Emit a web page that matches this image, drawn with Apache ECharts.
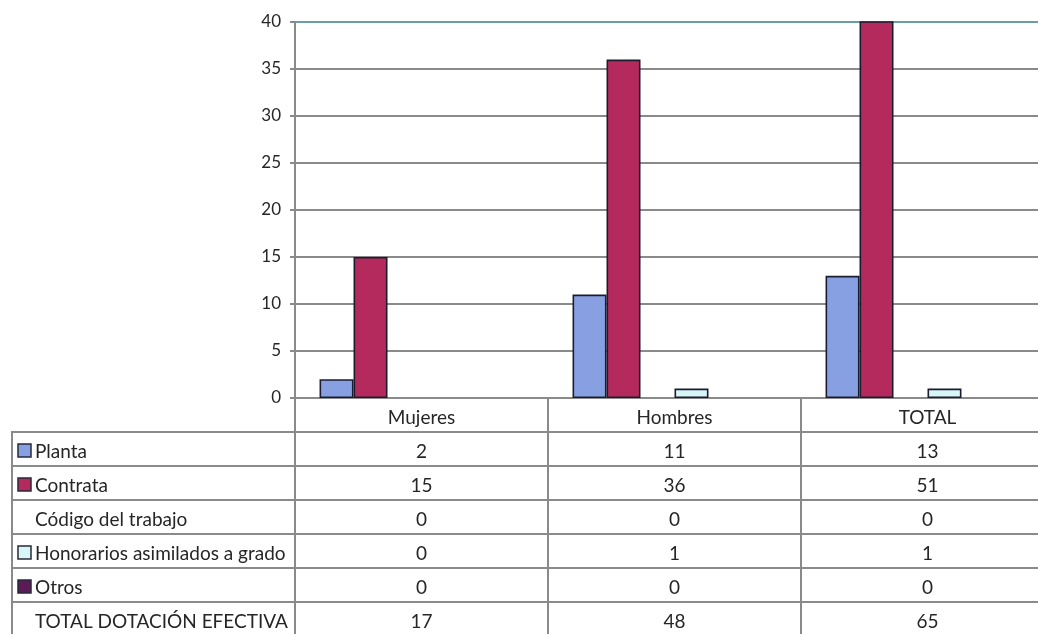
<!DOCTYPE html>
<html><head><meta charset="utf-8">
<script src="https://cdn.jsdelivr.net/npm/echarts@6/dist/echarts.min.js"></script>
<style>html,body{margin:0;padding:0;background:#fff}#c{width:1038px;height:634px}</style>
</head><body><div id="c"></div>
<script>
const categories = ['Mujeres', 'Hombres', 'TOTAL'];
const seriesNames = ['Planta', 'Contrata', 'Código del trabajo', 'Honorarios asimilados a grado', 'Otros', 'TOTAL DOTACIÓN EFECTIVA'];
const planta = [2, 11, 13];
const contrata = [15, 36, 51];
const codigoTrabajo = [0, 0, 0];
const honorarios = [0, 1, 1];
const otros = [0, 0, 0];
const totalDotacion = [17, 48, 65];
const yMin = 0, yMax = 40, yInterval = 5;

const seriesValues = [planta, contrata, codigoTrabajo, honorarios, otros, totalDotacion];
const colors = ['#87a0e2', '#b42a5c', '#ffffcc', '#d6f6f8', '#5c1a56', 'rgba(0,0,0,0)'];
const showKey = [true, true, false, true, true, false];
const showBar = [true, true, true, true, true, false];
const FONT = 'Lato';
const LINE = '#8a8a8a';
const TXT = '#262626';
const LABEL_W = 283 / 253;

const chart = echarts.init(document.getElementById('c'), null, {renderer: 'canvas'});

const barSeries = seriesNames.map((name, i) => ({
  type: 'bar', name, xAxisIndex: 0, yAxisIndex: 0,
  barGap: 0, barCategoryGap: '19.4%',
  data: seriesValues[i].map(v => (v === 0 || !showBar[i]) ? {value: showBar[i] ? v : 0, itemStyle: {borderWidth: 0, color: 'rgba(0,0,0,0)'}} : v),
  itemStyle: {color: colors[i], borderColor: '#1c1c30', borderWidth: 1.6},
  silent: true, animation: false
}));

// table cells
const cells = [];
categories.forEach((c, ci) => cells.push({x0: ci, x1: ci + 1, r: 0, text: c, align: 'center', key: null}));
seriesNames.forEach((name, si) => {
  cells.push({x0: -LABEL_W, x1: 0, r: si + 1, text: name, align: 'left', key: showKey[si] ? colors[si] : null});
  seriesValues[si].forEach((v, ci) => cells.push({x0: ci, x1: ci + 1, r: si + 1, text: String(v), align: 'center', key: null}));
});

const tableSeries = {
  type: 'custom', xAxisIndex: 1, yAxisIndex: 1, silent: true, animation: false, clip: false,
  data: cells.map((c, i) => [c.x0, c.x1, c.r, i]),
  renderItem: (params, api) => {
    const c = cells[api.value(3)];
    const p0 = api.coord([c.x0, c.r]);
    const p1 = api.coord([c.x1, c.r + 1]);
    const children = [{
      type: 'rect', shape: {x: p0[0], y: p0[1], width: p1[0] - p0[0], height: p1[1] - p0[1]},
      style: {fill: 'none', stroke: LINE, lineWidth: 2}
    }];
    const cy = (p0[1] + p1[1]) / 2;
    if (c.align === 'center') {
      children.push({type: 'text', style: {text: c.text, x: (p0[0] + p1[0]) / 2, y: cy + 3, align: 'center', verticalAlign: 'middle', fill: TXT, font: '19px ' + FONT}});
    } else {
      if (c.key) children.push({type: 'rect', shape: {x: p0[0] + 6, y: cy - 5, width: 13, height: 13}, style: {fill: c.key, stroke: '#2a2a3a', lineWidth: 1.5}});
      children.push({type: 'text', style: {text: c.text, x: p0[0] + 23, y: cy + 3, align: 'left', verticalAlign: 'middle', fill: TXT, font: '19px ' + FONT}});
    }
    return {type: 'group', children};
  }
};

const splitColors = [];
for (let v = yMin; v <= yMax; v += yInterval) splitColors.push(v === yMax ? '#6a9ea8' : LINE);

chart.setOption({
  animation: false,
  backgroundColor: '#fff',
  textStyle: {fontFamily: FONT},
  grid: [
    {left: 295, width: 759, top: 22, height: 376, outerBoundsMode: 'none', containLabel: false},
    {left: 12, width: 1042, top: 398, height: 238, outerBoundsMode: 'none', containLabel: false}
  ],
  xAxis: [
    {type: 'category', gridIndex: 0, data: categories, axisLabel: {show: false}, axisTick: {show: false},
     axisLine: {show: true, lineStyle: {color: LINE, width: 2}}},
    {type: 'value', gridIndex: 1, min: -LABEL_W, max: categories.length, show: false}
  ],
  yAxis: [
    {type: 'value', gridIndex: 0, min: yMin, max: yMax, interval: yInterval,
     axisLine: {show: true, lineStyle: {color: LINE, width: 2}},
     axisTick: {show: true, length: 5, lineStyle: {color: LINE, width: 2}},
     axisLabel: {color: TXT, fontSize: 17, margin: 14, fontFamily: FONT},
     splitLine: {show: true, lineStyle: {color: splitColors, width: 2}}},
    {type: 'value', gridIndex: 1, min: 0, max: seriesNames.length + 1, inverse: true, show: false}
  ],
  series: [...barSeries, tableSeries]
});
</script></body></html>
